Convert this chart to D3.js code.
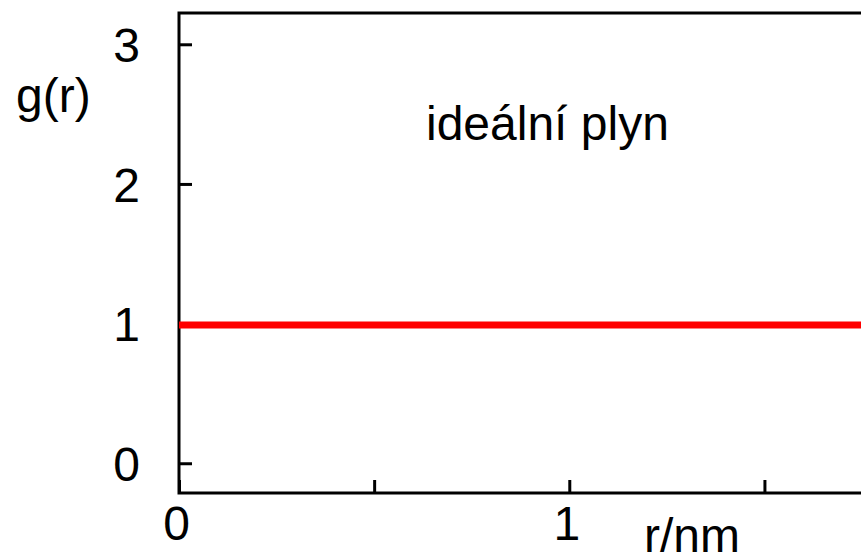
<!DOCTYPE html>
<html>
<head>
<meta charset="utf-8">
<script src="https://cdn.jsdelivr.net/npm/d3@7"></script>
<style>
  body { margin: 0; background: #fff; }
  svg { display: block; }
  text { font-family: "Liberation Sans", Arial, sans-serif; font-size: 48px; fill: #000; }
</style>
</head>
<body>
<div id="chart"></div>
<script>
// data: ideal gas, g(r) = 1 everywhere
var rValues = [0, 1.75];
var gValues = [1, 1];
var xTicks = [0, 0.5, 1, 1.5];
var xTickLabels = ["0", "", "1", ""];
var yTicks = [0, 1, 2, 3];

var width = 861, height = 558;
var plotLeft = 179, plotTop = 13, plotBottom = 493, plotRight = 862;

var svg = d3.select("#chart").append("svg")
    .attr("width", width)
    .attr("height", height);

var x = d3.scaleLinear().domain([0, 1.75]).range([plotLeft, plotRight]);
var y = d3.scaleLinear().domain([-0.213, 3.224]).range([plotBottom, plotTop]);

// frame (top + left + bottom, right side runs off the picture)
svg.append("path")
    .attr("d", "M" + plotRight + "," + plotTop + "H" + plotLeft + "V" + plotBottom + "H" + plotRight)
    .attr("fill", "none")
    .attr("stroke", "#000")
    .attr("stroke-width", 3);

// y axis, ticks pointing inward
var yAxis = svg.append("g")
    .attr("transform", "translate(" + plotLeft + ",0)")
    .call(d3.axisLeft(y).tickValues(yTicks).tickSizeInner(-13).tickSizeOuter(0).tickFormat(d3.format("d")));
yAxis.select(".domain").remove();
yAxis.selectAll(".tick line").attr("stroke", "#000").attr("stroke-width", 3);
yAxis.selectAll(".tick text")
    .attr("x", -39)
    .attr("dy", "0.36em")
    .attr("font-size", null)
    .attr("font-family", null)
    .style("text-anchor", "end");

// x axis
var xAxis = svg.append("g")
    .attr("transform", "translate(0," + plotBottom + ")")
    .call(d3.axisBottom(x).tickValues(xTicks).tickSizeInner(-13).tickSizeOuter(0)
        .tickFormat(function (d, i) { return xTickLabels[i]; }));
xAxis.select(".domain").remove();
xAxis.selectAll(".tick line").attr("stroke", "#000").attr("stroke-width", 3);
xAxis.selectAll(".tick text")
    .attr("x", -3)
    .attr("y", 47)
    .attr("dy", null)
    .attr("font-size", null)
    .attr("font-family", null);

// the curve
var line = d3.line()
    .x(function (d, i) { return x(rValues[i]); })
    .y(function (d) { return y(d) + 1.5; });

svg.append("path")
    .datum(gValues)
    .attr("d", line)
    .attr("fill", "none")
    .attr("stroke", "#ff0000")
    .attr("stroke-width", 7);

// labels
svg.append("text").attr("x", 16).attr("y", 112).text("g(r)");
svg.append("text").attr("x", 644).attr("y", 552).text("r/nm");
svg.append("text").attr("x", 426).attr("y", 140).text("ideální plyn");
</script>
</body>
</html>
